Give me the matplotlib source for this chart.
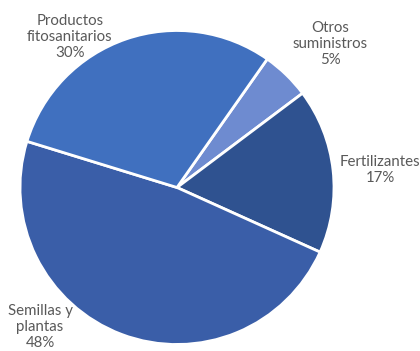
import matplotlib.pyplot as plt

# slice order clockwise starting from the Otros/Productos boundary
categories = ['Otros\nsuministros', 'Fertilizantes', 'Semillas y\nplantas', 'Productos\nfitosanitarios']
values = [5, 17, 48, 30]
colors = ['#6E8BD0', '#2F5290', '#3A5EA8', '#4070BF']
# label anchor points in pixels (x, y from top)
label_pos = [(330, 44), (380, 170), (40, 327), (70, 37)]

plt.rcParams['font.family'] = ['Lato', 'DejaVu Sans']

fig = plt.figure(figsize=(4.2, 3.51), dpi=100)
ax = fig.add_axes([0, 0, 1, 1])
W, H = 420, 351
cx, cy, r = 177, 187.5, 157

ax.pie(values, colors=colors, startangle=54.9, counterclock=False,
       center=(cx, H - cy), radius=r,
       wedgeprops=dict(edgecolor='white', linewidth=2))

for cat, v, (x, y) in zip(categories, values, label_pos):
    ax.text(x, H - y, f'{cat}\n{v}%', ha='center', va='center',
            fontsize=10.8, color='#595959', linespacing=1.22)

ax.set_xlim(0, W)
ax.set_ylim(0, H)
ax.set_aspect('equal')
ax.axis('off')
fig.savefig('out.png', dpi=100)
